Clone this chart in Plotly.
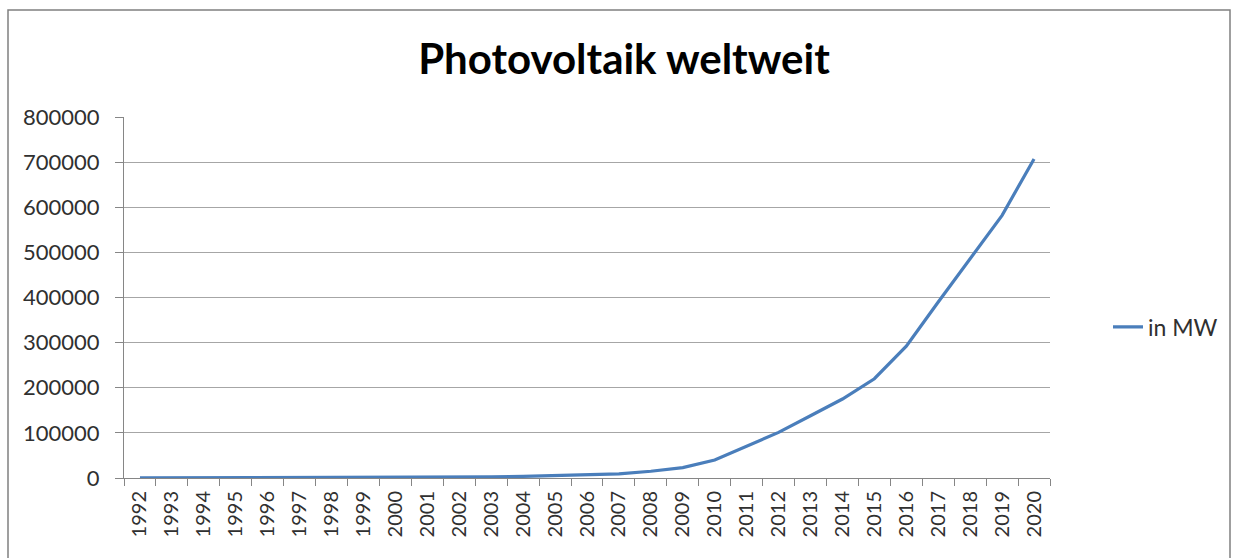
import plotly.graph_objects as go

years = [str(y) for y in range(1992, 2021)]
capacity_mw = [100, 200, 250, 300, 400, 500, 600, 800, 1000, 1300, 1800, 2600, 3700,
               5100, 6500, 9000, 15000, 23000, 40000, 70000, 101000, 138000, 175000,
               220000, 292000, 390000, 487000, 582000, 707000]
y_ticks = [0, 100000, 200000, 300000, 400000, 500000, 600000, 700000, 800000]

W, H = 1239, 558
L, R, T, B = 124, 189, 117, 80
pw = W - L - R
ph = H - T - B

fig = go.Figure()
fig.add_trace(go.Scatter(
    x=years, y=capacity_mw, mode="lines", name="in MW",
    line=dict(color="#4a7ebb", width=3.2),
))

font_family = "Lato, Open Sans, sans-serif"
fig.update_layout(
    width=W, height=H,
    margin=dict(l=L, r=R, t=T, b=B),
    paper_bgcolor="white", plot_bgcolor="white",
    title=dict(text="<b>Photovoltaik weltweit</b>", x=624 / W, xref="container",
               xanchor="center", y=1 - 59 / H, yref="container", yanchor="middle",
               font=dict(family=font_family, size=42, color="#000000")),
    font=dict(family=font_family, color="#303030"),
    showlegend=True,
    legend=dict(x=(1108 - L) / pw, xanchor="left", y=(H - B - 327) / ph, yanchor="middle",
                font=dict(size=23, color="#303030"), bgcolor="rgba(0,0,0,0)"),
    xaxis=dict(type="category", tickangle=-90, tickson="boundaries",
               ticks="outside", ticklen=7, tickcolor="#868686",
               showline=True, linecolor="#868686", linewidth=1,
               showgrid=False, tickfont=dict(size=20, color="#303030"),
               ticklabelstandoff=4,
               range=[-0.5, len(years) - 0.5]),
    yaxis=dict(range=[0, 800000], tickvals=y_ticks, ticktext=[str(v) for v in y_ticks],
               ticks="outside", ticklen=8, tickcolor="#868686",
               showline=True, linecolor="#868686", linewidth=1,
               showgrid=True, gridcolor="#a6a6a6", gridwidth=1,
               zeroline=False, tickfont=dict(size=22, color="#303030"),
               ticklabelstandoff=11),
    shapes=[dict(type="rect", xref="paper", yref="paper",
                 x0=(8 - L) / pw, x1=(1230 - L) / pw,
                 y0=-0.4, y1=(H - B - 10) / ph,
                 line=dict(color="#808080", width=1.5), fillcolor="rgba(0,0,0,0)",
                 layer="below")],
)

fig.write_html("out.html")
